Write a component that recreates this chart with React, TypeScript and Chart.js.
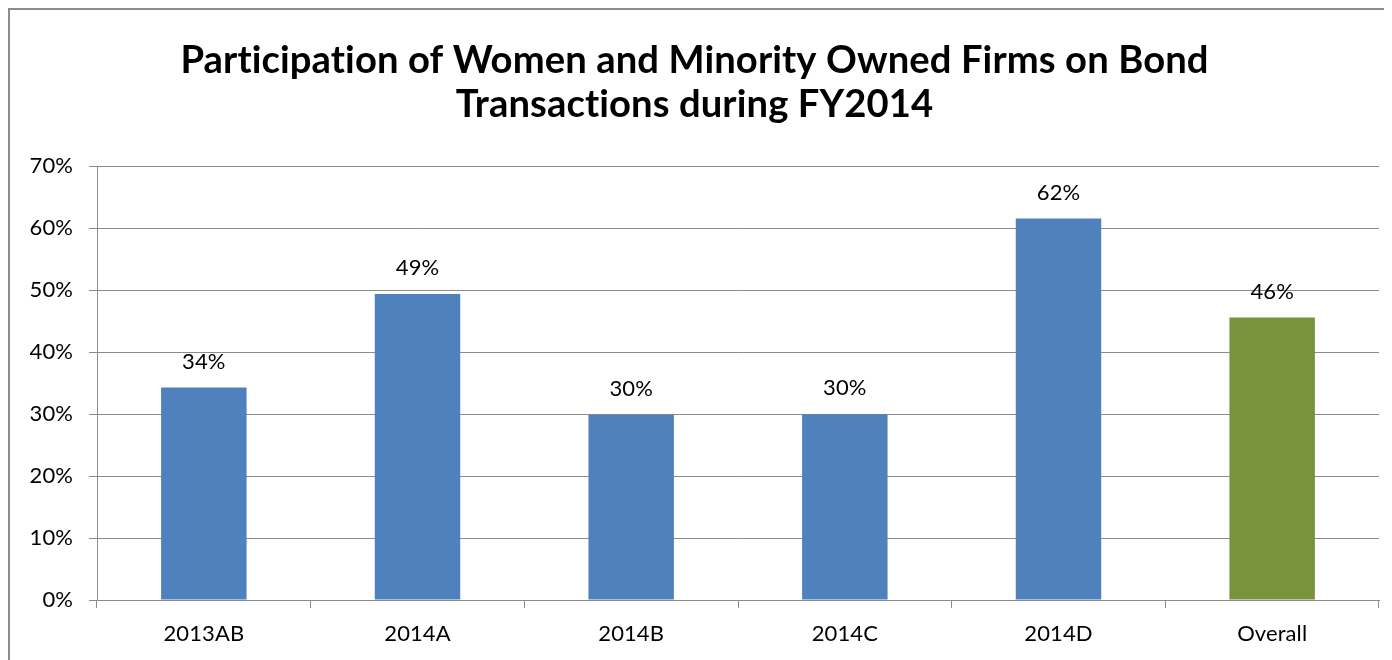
import React, { useEffect, useRef } from "react";
import { Chart, registerables } from "chart.js";

Chart.register(...registerables);

const categories = ["2013AB", "2014A", "2014B", "2014C", "2014D", "Overall"];
const participation = [34.3, 49.4, 29.9, 30.0, 61.6, 45.6];
const barColors = ["#4F81BD", "#4F81BD", "#4F81BD", "#4F81BD", "#4F81BD", "#77933C"];
const titleLines = [
  "Participation of Women and Minority Owned Firms on Bond",
  "Transactions during FY2014",
];

const FONT = "Lato, 'Open Sans', sans-serif";

const noLigatures = {
  id: "noLigatures",
  beforeDraw(chart: any) {
    const ctx = chart.ctx as any;
    ctx.letterSpacing = "0.1px";
  },
};

const valueLabels = {
  id: "valueLabels",
  afterDatasetsDraw(chart: any) {
    const ctx = chart.ctx;
    const meta = chart.getDatasetMeta(0);
    ctx.save();
    ctx.font = `22px ${FONT}`;
    ctx.fillStyle = "#000";
    ctx.textAlign = "center";
    ctx.textBaseline = "middle";
    meta.data.forEach((bar: any, i: number) => {
      const v = chart.data.datasets[0].data[i] as number;
      ctx.fillText(`${Math.round(v)}%`, bar.x, bar.y - 26);
    });
    ctx.restore();
  },
};

export default function App() {
  const ref = useRef<HTMLCanvasElement | null>(null);
  useEffect(() => {
    if (!ref.current) return;
    const chart = new Chart(ref.current, {
      type: "bar",
      data: {
        labels: categories,
        datasets: [
          {
            data: participation,
            backgroundColor: barColors,
            barPercentage: 0.4,
            categoryPercentage: 1,
          },
        ],
      },
      options: {
        animation: false,
        responsive: false,
        maintainAspectRatio: false,
        layout: { padding: { left: 0, right: 1, top: 0, bottom: 0 } },
        plugins: {
          legend: { display: false },
          tooltip: { enabled: false },
          title: {
            display: true,
            text: titleLines,
            color: "#000",
            font: { family: FONT, size: 38.2, weight: "bold", lineHeight: 1.17 },
            padding: { top: 28, bottom: 39 },
          },
        },
        scales: {
          x: {
            offset: true,
            grid: {
              offset: true,
              drawOnChartArea: false,
              drawTicks: true,
              tickLength: 8,
              color: "#8c8c8c",
              tickColor: "#8c8c8c",
            },
            border: { display: true, color: "#8c8c8c", width: 1 },
            ticks: {
              color: "#000",
              font: { family: FONT, size: 22 },
              padding: 13,
            },
            afterFit(scale: any) {
              scale.height = 60;
            },
          },
          y: {
            min: 0,
            max: 70,
            grid: {
              color: "#8c8c8c",
              tickColor: "#8c8c8c",
              tickLength: 8,
              drawTicks: true,
            },
            border: { display: true, color: "#8c8c8c", width: 1 },
            ticks: {
              stepSize: 10,
              color: "#000",
              font: { family: FONT, size: 22 },
              padding: 16,
              callback: (v: any) => `${v}%`,
            },
            afterFit(scale: any) {
              scale.width = 87;
            },
          },
        },
      },
      plugins: [noLigatures, valueLabels],
    });
    return () => chart.destroy();
  }, []);

  return (
    <div style={{ width: 1384, height: 652, overflow: "hidden" }}>
      <div
        style={{
          width: 1384,
          height: 652,
          boxSizing: "border-box",
          borderTop: "2px solid #8c8c8c",
          borderLeft: "2px solid #8c8c8c",
          background: "#fff",
        }}
      >
        <canvas ref={ref} width={1370} height={650} style={{ display: "block" }} />
      </div>
    </div>
  );
}
